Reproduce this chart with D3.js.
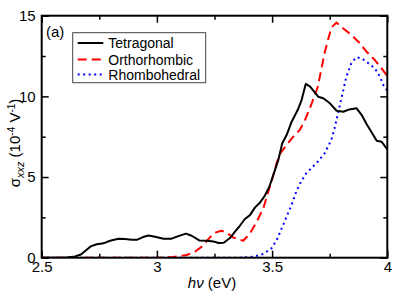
<!DOCTYPE html>
<html>
<head>
<meta charset="utf-8">
<script src="https://cdn.jsdelivr.net/npm/d3@7"></script>
<style>
html,body{margin:0;padding:0;background:#fff;}
svg{display:block;font-family:"Liberation Sans",Arial,Helvetica,sans-serif;}
</style>
</head>
<body>
<svg id="chart" width="407" height="305"></svg>
<script>
const xTicks = [2.5, 3, 3.5, 4];
const xTickLabels = ["2.5", "3", "3.5", "4"];
const xMinor = [2.75, 3.25, 3.75];
const yTicks = [0, 5, 10, 15];
const yTickLabels = ["0", "5", "10", "15"];
const yMinor = [2.5, 7.5, 12.5];
const seriesNames = ["Tetragonal", "Orthorhombic", "Rhombohedral"];

const tetE = [2.5,2.608,2.645,2.67,2.69,2.715,2.739,2.768,2.797,2.833,2.862,2.89,2.915,2.94,2.963,2.992,3.028,3.064,3.093,3.126,3.151,3.184,3.216,3.245,3.267,3.29,3.317,3.339,3.36,3.382,3.404,3.426,3.447,3.466,3.488,3.505,3.527,3.544,3.563,3.585,3.611,3.628,3.646,3.665,3.70,3.722,3.751,3.78,3.809,3.835,3.867,3.889,3.91,3.939,3.954,3.975,4.0];
const tetS = [0,0.02,0.08,0.2,0.43,0.72,0.83,0.89,1.05,1.18,1.16,1.12,1.12,1.28,1.38,1.30,1.18,1.18,1.34,1.49,1.36,1.07,1.05,1.01,0.91,0.93,1.22,1.61,1.98,2.40,2.64,3.12,3.41,3.78,4.40,5.12,6.05,7.09,7.60,8.43,9.15,9.77,10.77,10.6,9.98,9.88,9.57,9.11,9.05,9.19,9.26,8.84,8.29,7.60,7.25,7.19,6.71];

const ortE = [2.5,3.0,3.071,3.13,3.165,3.20,3.23,3.252,3.28,3.30,3.33,3.375,3.404,3.433,3.462,3.49,3.503,3.52,3.537,3.569,3.592,3.62,3.643,3.672,3.698,3.728,3.757,3.779,3.809,3.845,3.874,3.91,3.946,3.975,4.0];
const ortS = [0,0,0.04,0.17,0.37,0.74,1.26,1.55,1.67,1.59,1.26,1.05,1.51,2.23,3.06,4.40,5.0,5.9,6.5,7.1,7.5,7.92,8.53,9.57,10.57,12.7,14.26,14.57,14.21,13.80,13.39,12.77,12.25,11.74,11.26];

const rhoE = [2.5,3.36,3.419,3.462,3.497,3.52,3.533,3.55,3.569,3.585,3.605,3.625,3.648,3.67,3.692,3.728,3.757,3.771,3.79,3.822,3.844,3.865,3.889,3.918,3.946,3.968,3.983,4.0];
const rhoS = [0,0,0.06,0.23,0.58,1.1,1.53,2.1,2.75,3.3,4.1,4.7,5.23,5.55,5.85,6.47,7.3,8.02,9.2,11.2,12.06,12.42,12.36,12.05,11.74,11.22,10.70,10.35];

const colors = ["#000000", "#ff0000", "#0000ff"];
const dashes = [null, "9,5", "2,3.5"];

const svg = d3.select("#chart");
const L = 41.7, R = 387.3, T = 15.7, B = 257.7;
const x = d3.scaleLinear().domain([2.5, 4]).range([L, R]);
const y = d3.scaleLinear().domain([0, 15]).range([B, T]);

const clip = svg.append("defs").append("clipPath").attr("id","clp")
  .append("rect").attr("x",L).attr("y",T).attr("width",R-L).attr("height",B-T);

const line = d3.line().x(d => x(d[0])).y(d => y(d[1]));
const data = [
  d3.zip(tetE, tetS),
  d3.zip(ortE, ortS),
  d3.zip(rhoE, rhoS)
];
const g = svg.append("g").attr("clip-path","url(#clp)");
[2,1,0].forEach(i => {
  g.append("path").datum(data[i]).attr("d", line)
    .attr("fill","none").attr("stroke",colors[i]).attr("stroke-width",2)
    .attr("stroke-dasharray", dashes[i]).attr("stroke-linejoin","round");
});

function styleAxis(sel){
  sel.select(".domain").remove();
  sel.selectAll(".tick line").attr("stroke","#000").attr("stroke-width",1.5);
  sel.selectAll("text").attr("font-size",15).attr("fill","#000")
    .attr("font-family","'Liberation Sans',Arial,Helvetica,sans-serif");
}
// bottom
svg.append("g").attr("transform",`translate(0,${B})`)
  .call(d3.axisBottom(x).tickValues(xTicks).tickFormat((d,i)=>xTickLabels[i]).tickSize(-7).tickPadding(3.5))
  .call(styleAxis);
svg.append("g").attr("transform",`translate(0,${B})`)
  .call(d3.axisBottom(x).tickValues(xMinor).tickFormat("").tickSize(-4)).call(styleAxis);
// top
svg.append("g").attr("transform",`translate(0,${T})`)
  .call(d3.axisTop(x).tickValues(xTicks).tickFormat("").tickSize(-7)).call(styleAxis);
svg.append("g").attr("transform",`translate(0,${T})`)
  .call(d3.axisTop(x).tickValues(xMinor).tickFormat("").tickSize(-4)).call(styleAxis);
// left
svg.append("g").attr("transform",`translate(${L},0)`)
  .call(d3.axisLeft(y).tickValues(yTicks).tickFormat((d,i)=>yTickLabels[i]).tickSize(-7).tickPadding(6))
  .call(styleAxis);
svg.append("g").attr("transform",`translate(${L},0)`)
  .call(d3.axisLeft(y).tickValues(yMinor).tickFormat("").tickSize(-4)).call(styleAxis);
// right
svg.append("g").attr("transform",`translate(${R},0)`)
  .call(d3.axisRight(y).tickValues(yTicks).tickFormat("").tickSize(-7)).call(styleAxis);
svg.append("g").attr("transform",`translate(${R},0)`)
  .call(d3.axisRight(y).tickValues(yMinor).tickFormat("").tickSize(-4)).call(styleAxis);

// frame
svg.append("rect").attr("x",L).attr("y",T).attr("width",R-L).attr("height",B-T)
  .attr("fill","none").attr("stroke","#000").attr("stroke-width",2);

// panel label
svg.append("text").attr("x",46).attr("y",37).attr("font-size",15).text("(a)");

// legend
const lg = svg.append("g");
lg.append("rect").attr("x",72.7).attr("y",32.7).attr("width",133).attr("height",50)
  .attr("fill","#fff").attr("stroke","#444").attr("stroke-width",1);
const ly = [43, 59.5, 74.5];
seriesNames.forEach((n,i) => {
  lg.append("line").attr("x1",77.7).attr("x2",103.3).attr("y1",ly[i]).attr("y2",ly[i])
    .attr("stroke",colors[i]).attr("stroke-width",2).attr("stroke-dasharray",dashes[i]);
  lg.append("text").attr("x",108.3).attr("y",ly[i]).attr("dy","0.36em")
    .attr("font-size",14).text(n);
});

// x title
const xt = svg.append("text").attr("x",212).attr("y",288).attr("text-anchor","middle").attr("font-size",15);
xt.append("tspan").attr("font-style","italic").text("hν");
xt.append("tspan").text(" (eV)");

// y title
const yt = svg.append("text").attr("transform","translate(20,143) rotate(-90)")
  .attr("text-anchor","middle").attr("font-size",15);
yt.append("tspan").text("σ");
yt.append("tspan").attr("font-style","italic").attr("font-size",11).attr("dy",4).text("xxz");
yt.append("tspan").attr("dy",-4).text(" (10");
yt.append("tspan").attr("font-size",10).attr("dy",-5).text("-4");
yt.append("tspan").attr("dy",5).text(" V");
yt.append("tspan").attr("font-size",10).attr("dy",-5).text("-1");
yt.append("tspan").attr("dy",5).text(")");
</script>
</body>
</html>
